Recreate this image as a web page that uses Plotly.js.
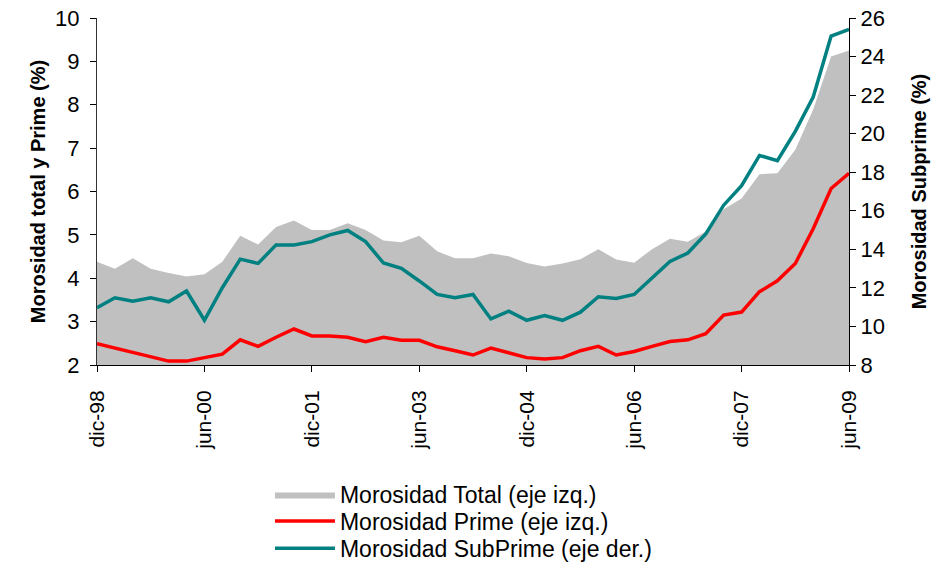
<!DOCTYPE html>
<html>
<head>
<meta charset="utf-8">
<script src="https://cdn.plot.ly/plotly-3.0.1.min.js"></script>
<style>
  html, body { margin: 0; padding: 0; background: #fff; }
  #chart { width: 951px; height: 568px; }
</style>
</head>
<body>
<div id="chart"></div>
<script>
// quarterly, dic-98 .. jun-09
const quarters = [
    'dic-98', 'mar-99', 'jun-99', 'sep-99', 'dic-99', 'mar-00', 'jun-00', 'sep-00',
    'dic-00', 'mar-01', 'jun-01', 'sep-01', 'dic-01', 'mar-02', 'jun-02', 'sep-02',
    'dic-02', 'mar-03', 'jun-03', 'sep-03', 'dic-03', 'mar-04', 'jun-04', 'sep-04',
    'dic-04', 'mar-05', 'jun-05', 'sep-05', 'dic-05', 'mar-06', 'jun-06', 'sep-06',
    'dic-06', 'mar-07', 'jun-07', 'sep-07', 'dic-07', 'mar-08', 'jun-08', 'sep-08',
    'dic-08', 'mar-09', 'jun-09'
];

const morosidadTotal = [
    4.38, 4.22, 4.46, 4.22, 4.12, 4.04, 4.09, 4.38, 4.98, 4.78,
    5.18, 5.33, 5.11, 5.11, 5.27, 5.11, 4.87, 4.83, 4.98, 4.62,
    4.46, 4.46, 4.57, 4.51, 4.35, 4.27, 4.34, 4.44, 4.67, 4.43,
    4.36, 4.67, 4.91, 4.84, 5.08, 5.59, 5.84, 6.40, 6.42, 6.96,
    7.89, 9.11, 9.25
];

const morosidadPrime = [
    2.49, 2.39, 2.31, 2.19, 2.09, 2.09, 2.16, 2.25, 2.58, 2.43,
    2.64, 2.83, 2.67, 2.67, 2.64, 2.54, 2.64, 2.57, 2.57, 2.42,
    2.33, 2.23, 2.39, 2.29, 2.17, 2.14, 2.17, 2.33, 2.43, 2.23,
    2.31, 2.43, 2.54, 2.58, 2.72, 3.15, 3.22, 3.69, 3.94, 4.34,
    5.14, 6.07, 6.42
];

const morosidadSubprime = [
    10.97, 11.49, 11.31, 11.49, 11.28, 11.84, 10.32, 12.01, 13.49, 13.27,
    14.23, 14.23, 14.40, 14.75, 14.98, 14.40, 13.29, 13.01, 12.36, 11.66,
    11.49, 11.66, 10.39, 10.79, 10.32, 10.56, 10.32, 10.74, 11.54, 11.45,
    11.66, 12.54, 13.37, 13.81, 14.80, 16.29, 17.30, 18.87, 18.60, 20.12,
    21.90, 25.06, 25.41
];

const FONT = 'Arial, "Liberation Sans", sans-serif';

const traces = [
    {
        x: quarters,
        y: morosidadTotal,
        type: 'scatter',
        mode: 'lines',
        name: 'Morosidad Total (eje izq.)',
        legend: 'legend',
        fill: 'tozeroy',
        fillcolor: '#C0C0C0',
        line: { width: 0, color: '#C0C0C0' }
    },
    {
        x: quarters,
        y: morosidadPrime,
        type: 'scatter',
        mode: 'lines',
        name: 'Morosidad Prime (eje izq.)',
        legend: 'legend2',
        line: { width: 3.5, color: '#FF0000' }
    },
    {
        x: quarters,
        y: morosidadSubprime,
        type: 'scatter',
        mode: 'lines',
        yaxis: 'y2',
        name: 'Morosidad SubPrime (eje der.)',
        legend: 'legend3',
        line: { width: 3.5, color: '#008080' }
    }
];

// one legend per row so the rows can sit as tightly as in the original
function legendAt(y) {
    return {
        x: 0.23, y: y, xanchor: 'left', yanchor: 'middle',
        font: { family: FONT, size: 23, color: '#000' },
        itemwidth: 60,
        bgcolor: 'rgba(0,0,0,0)'
    };
}

const layout = {
    width: 951,
    height: 568,
    paper_bgcolor: '#fff',
    plot_bgcolor: '#fff',
    font: { family: FONT, size: 22, color: '#000' },
    margin: { l: 97, r: 102, t: 18, b: 203, autoexpand: false },
    showlegend: true,
    legend: legendAt(-0.373),
    legend2: legendAt(-0.45),
    legend3: legendAt(-0.528),
    xaxis: {
        type: 'category',
        range: [0, 42],
        tickmode: 'linear',
        tick0: 0,
        dtick: 6,
        tickangle: -90,
        ticks: 'outside',
        ticklen: 6,
        tickcolor: '#000',
        ticklabelstandoff: 10,
        tickfont: { family: FONT, size: 21 },
        showline: true,
        linecolor: '#000',
        linewidth: 1,
        showgrid: false,
        zeroline: false
    },
    yaxis: {
        range: [2, 10],
        dtick: 1,
        ticks: 'outside',
        ticklen: 6,
        tickcolor: '#000',
        ticklabelstandoff: 6,
        showline: true,
        linecolor: '#333',
        linewidth: 1,
        showgrid: false,
        zeroline: false,
        title: { text: '<b>Morosidad total y Prime (%)</b>', font: { family: FONT, size: 20 }, standoff: 4 }
    },
    yaxis2: {
        range: [8, 26],
        dtick: 2,
        overlaying: 'y',
        side: 'right',
        ticks: 'outside',
        ticklen: 6,
        tickcolor: '#000',
        showline: true,
        linecolor: '#000',
        linewidth: 1,
        showgrid: false,
        zeroline: false,
        title: { text: '<b>Morosidad Subprime (%)</b>', font: { family: FONT, size: 20 }, standoff: 28 }
    }
};

Plotly.newPlot('chart', traces, layout, { displayModeBar: false, staticPlot: true });
</script>
</body>
</html>
